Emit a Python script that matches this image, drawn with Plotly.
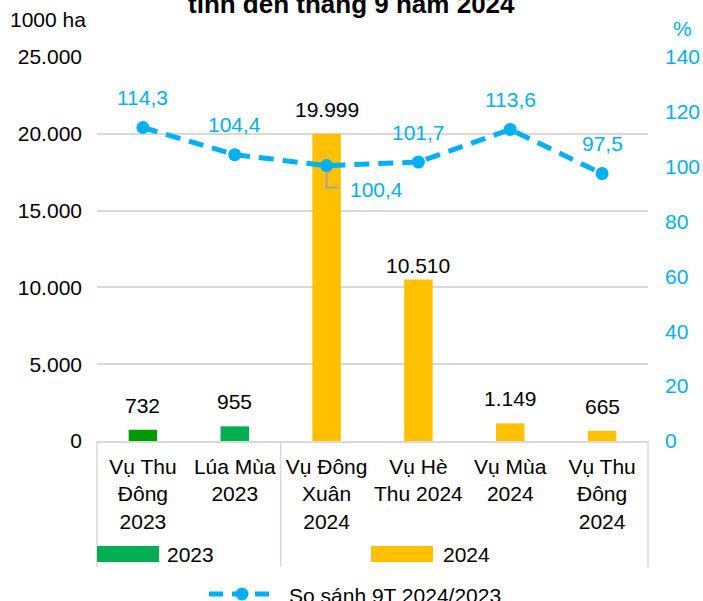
import plotly.graph_objects as go

categories = ["Vụ Thu<br>Đông<br>2023", "Lúa Mùa<br>2023", "Vụ Đông<br>Xuân<br>2024",
              "Vụ Hè<br>Thu 2024", "Vụ Mùa<br>2024", "Vụ Thu<br>Đông<br>2024"]
years = ["2023", "2023", "2024", "2024", "2024", "2024"]
area = [732, 955, 19999, 10510, 1149, 665]
ratio = [114.3, 104.4, 100.4, 101.7, 113.6, 97.5]
left_ticks = [0, 5000, 10000, 15000, 20000, 25000]
right_ticks = [0, 20, 40, 60, 80, 100, 120, 140]

FONT = "Liberation Sans, Arial, sans-serif"
CYAN = "#00B0F0"
GRID = "#D9D9D9"
bar_colors = {"2023": ["#009A00", "#00B050"], "2024": ["#FFC000"] * 4}

fig = go.Figure()
for yr in ["2023", "2024"]:
    xs = [c for c, y in zip(categories, years) if y == yr]
    vs = [v for v, y in zip(area, years) if y == yr]
    fig.add_trace(go.Bar(x=xs, y=vs, name=yr, marker=dict(color=bar_colors[yr], line_width=0),
                         width=0.31, showlegend=False, yaxis="y"))

fig.add_trace(go.Scatter(x=categories, y=ratio, yaxis="y2", mode="lines+markers",
                         name="So sánh 9T 2024/2023",
                         line=dict(color=CYAN, width=5, dash="15px,9px"),
                         marker=dict(color=CYAN, size=13), showlegend=False))

annotations = []
# bar value labels
for i, (c, v) in enumerate(zip(categories, area)):
    txt = f"{v:,}".replace(",", ".")
    annotations.append(dict(x=c, y=v, xref="x", yref="y", text=txt, showarrow=False,
                            yanchor="bottom", yshift=(1 if v == 10510 else 11),
                            font=dict(size=21, color="#000000")))
# line labels
for i, (c, r) in enumerate(zip(categories, ratio)):
    txt = f"{r:.1f}".replace(".", ",")
    if i == 2:
        annotations.append(dict(x=c, y=r, xref="x", yref="y2", text=txt, showarrow=False,
                                xanchor="left", yanchor="middle", xshift=21, yshift=-24,
                                font=dict(size=21, color=CYAN)))
    else:
        annotations.append(dict(x=c, y=r, xref="x", yref="y2", text=txt, showarrow=False,
                                yanchor="middle", yshift=30,
                                font=dict(size=21, color=CYAN)))

# title and axis titles
annotations += [
    dict(x=0.4610, y=1.138, xref="paper", yref="paper", text="<b>tính đến tháng 9 năm 2024</b>",
         showarrow=False, yanchor="middle", font=dict(size=26, color="#000000")),
    dict(x=-0.1615, y=1.0964, xref="paper", yref="paper", text="1000 ha", showarrow=False,
         xanchor="left", yanchor="middle", font=dict(size=21, color="#000000")),
    dict(x=1.0635, y=1.0755, xref="paper", yref="paper", text="%", showarrow=False,
         xanchor="center", yanchor="middle", font=dict(size=21, color=CYAN)),
    dict(x=0.1234, y=-0.2943, xref="paper", yref="paper", text="2023", showarrow=False,
         xanchor="left", yanchor="middle", font=dict(size=21, color="#000000")),
    dict(x=0.6243, y=-0.2943, xref="paper", yref="paper", text="2024", showarrow=False,
         xanchor="left", yanchor="middle", font=dict(size=21, color="#000000")),
    dict(x=0.3448, y=-0.4036, xref="paper", yref="paper", text="So sánh 9T 2024/2023",
         showarrow=False, xanchor="left", yanchor="middle", font=dict(size=21, color="#000000")),
]

shapes = []
for xp in [0, 1 / 3, 1]:
    shapes.append(dict(type="line", xref="paper", yref="paper", x0=xp, x1=xp, y0=0, y1=-0.328,
                       line=dict(color=GRID, width=1.5)))
shapes += [
    dict(type="rect", xref="paper", yref="paper", x0=0, x1=0.1125, y0=-0.2734, y1=-0.3151,
         fillcolor="#00B050", line_width=0),
    dict(type="rect", xref="paper", yref="paper", x0=0.4973, x1=0.6098, y0=-0.2734, y1=-0.3151,
         fillcolor="#FFC000", line_width=0),
    dict(type="line", xref="paper", yref="paper", x0=0.2033, x1=0.323, y0=-0.3984, y1=-0.3984,
         line=dict(color=CYAN, width=5, dash="14px,9px")),
    dict(type="circle", xref="paper", yref="paper", xsizemode="pixel", ysizemode="pixel",
         xanchor=0.2632, yanchor=-0.3984, x0=-6.5, x1=6.5, y0=-6.5, y1=6.5,
         fillcolor=CYAN, line_width=0),
    # leader line for 100,4
    dict(type="path", xref="x", yref="y2", xsizemode="pixel", ysizemode="pixel",
         xanchor=categories[2], yanchor=ratio[2], path="M0,-7 V-22 H12",
         line=dict(color="#A6A6A6", width=2), layer="above"),
]

fig.update_layout(
    width=703, height=601, autosize=False,
    margin=dict(l=97, r=55, t=57, b=160, autoexpand=False),
    paper_bgcolor="white", plot_bgcolor="white",
    separators=",.",
    font=dict(family=FONT, size=21, color="#000000"),
    bargap=0.69,
    xaxis=dict(type="category", categoryorder="array", categoryarray=categories,
               range=[-0.5, 5.5], showgrid=False, showline=True, linecolor=GRID, linewidth=1.5,
               ticks="", tickfont=dict(size=21, color="#000000"), ticklabelstandoff=6,
               automargin=False),
    yaxis=dict(range=[0, 25000], tickvals=left_ticks, tickformat=",", showgrid=True,
               gridcolor=GRID, gridwidth=1.5, zeroline=False, showline=False, ticks="",
               tickfont=dict(size=21, color="#000000"), ticklabelstandoff=14, automargin=False),
    yaxis2=dict(range=[0, 140], tickvals=right_ticks, overlaying="y", side="right",
                showgrid=False, zeroline=False, showline=False, ticks="",
                tickfont=dict(size=21, color=CYAN), ticklabelstandoff=16, automargin=False),
    annotations=annotations, shapes=shapes, showlegend=False,
)

fig.write_html("out.html", config={"displayModeBar": False, "responsive": False},
               post_script="document.body.style.margin='0px';document.body.style.overflow='hidden';")
